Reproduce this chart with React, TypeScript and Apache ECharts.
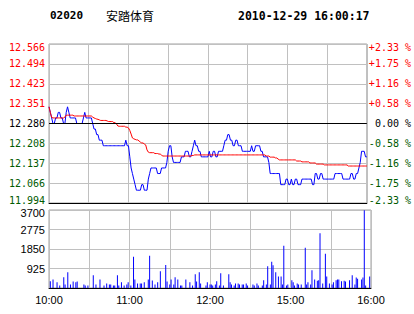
import React, { useEffect, useRef } from 'react';
import * as echarts from 'echarts';

const STOCK_CODE = '02020';
const STOCK_NAME = '安踏体育';
const TIMESTAMP = '2010-12-29 16:00:17';
const PREV_CLOSE = 12.28;
const Y_MIN = 11.994;
const Y_MAX = 12.566;
const Y_STEP = 0.0715;
const VOL_MAX = 3700;
const VOL_STEP = 925;
const X_MAX = 240;
const X_STEP = 30;

const PRICE_LABELS = ['11.994', '12.066', '12.137', '12.208', '12.280', '12.351', '12.423', '12.494', '12.566'];
const PCT_LABELS = ['-2.33 %', '-1.75 %', '-1.16 %', '-0.58 %', '\u00a00.00 %', '+0.58 %', '+1.16 %', '+1.75 %', '+2.33 %'];
const VOL_LABELS = ['', '925', '1850', '2775', '3700'];
const TIME_TICKS = [0, 60, 120, 180, 240];
const TIME_TEXT = ['10:00', '11:00', '12:00', '15:00', '16:00'];

// one value per minute, 10:00-12:30 then 14:30-16:00
const PRICE = [
  12.34, 12.32, 12.30, 12.28, 12.28, 12.30, 12.30, 12.32, 12.32, 12.30,
  12.30, 12.28, 12.28, 12.32, 12.34, 12.32, 12.30, 12.30, 12.30, 12.30,
  12.30, 12.28, 12.28, 12.28, 12.28, 12.28, 12.30, 12.32, 12.30, 12.30,
  12.30, 12.30, 12.30, 12.28, 12.26, 12.26, 12.24, 12.24, 12.22, 12.22,
  12.22, 12.20, 12.20, 12.20, 12.20, 12.20, 12.20, 12.20, 12.20, 12.20,
  12.20, 12.20, 12.20, 12.20, 12.20, 12.20, 12.20, 12.20, 12.22, 12.20,
  12.20, 12.16, 12.12, 12.10, 12.08, 12.06, 12.04, 12.04, 12.04, 12.04,
  12.06, 12.06, 12.04, 12.04, 12.04, 12.08, 12.10, 12.12, 12.12, 12.12,
  12.12, 12.12, 12.10, 12.10, 12.10, 12.12, 12.12, 12.12, 12.12, 12.14,
  12.18, 12.20, 12.20, 12.16, 12.14, 12.14, 12.14, 12.14, 12.14, 12.14,
  12.16, 12.16, 12.16, 12.18, 12.18, 12.18, 12.16, 12.16, 12.18, 12.20,
  12.22, 12.20, 12.20, 12.18, 12.18, 12.16, 12.16, 12.16, 12.16, 12.16,
  12.16, 12.18, 12.16, 12.16, 12.18, 12.18, 12.16, 12.16, 12.18, 12.18,
  12.18, 12.18, 12.20, 12.22, 12.22, 12.24, 12.24, 12.22, 12.22, 12.20,
  12.20, 12.22, 12.22, 12.20, 12.20, 12.20, 12.18, 12.18, 12.18, 12.18,
  12.18, 12.18, 12.18, 12.20, 12.18, 12.18, 12.20, 12.20, 12.20, 12.20,
  12.18, 12.18, 12.16, 12.16, 12.16, 12.16, 12.14, 12.10, 12.10, 12.10,
  12.10, 12.10, 12.10, 12.10, 12.10, 12.06, 12.06, 12.06, 12.06, 12.08,
  12.08, 12.06, 12.06, 12.08, 12.06, 12.06, 12.08, 12.08, 12.06, 12.06,
  12.06, 12.08, 12.08, 12.08, 12.08, 12.08, 12.08, 12.08, 12.08, 12.06,
  12.06, 12.10, 12.10, 12.08, 12.08, 12.10, 12.10, 12.08, 12.08, 12.08,
  12.08, 12.08, 12.08, 12.08, 12.08, 12.08, 12.10, 12.10, 12.10, 12.10,
  12.10, 12.10, 12.08, 12.08, 12.08, 12.08, 12.08, 12.08, 12.10, 12.10,
  12.08, 12.08, 12.10, 12.10, 12.12, 12.14, 12.18, 12.18, 12.18, 12.16,
  12.16,
];

const AVG_PRICE = [
  12.340, 12.320, 12.302, 12.300, 12.300, 12.300, 12.300, 12.300, 12.300, 12.300,
  12.300, 12.300, 12.303, 12.310, 12.310, 12.310, 12.310, 12.310, 12.310, 12.307,
  12.307, 12.307, 12.307, 12.307, 12.307, 12.307, 12.307, 12.307, 12.307, 12.307,
  12.307, 12.307, 12.307, 12.303, 12.300, 12.298, 12.296, 12.295, 12.293, 12.291,
  12.291, 12.291, 12.291, 12.291, 12.289, 12.287, 12.287, 12.287, 12.287, 12.283,
  12.283, 12.278, 12.271, 12.270, 12.270, 12.270, 12.270, 12.270, 12.267, 12.267,
  12.264, 12.255, 12.242, 12.228, 12.225, 12.223, 12.221, 12.221, 12.217, 12.213,
  12.210, 12.210, 12.206, 12.203, 12.185, 12.177, 12.175, 12.175, 12.175, 12.175,
  12.172, 12.172, 12.172, 12.170, 12.170, 12.166, 12.163, 12.163, 12.163, 12.163,
  12.163, 12.163, 12.163, 12.163, 12.163, 12.163, 12.163, 12.163, 12.163, 12.163,
  12.163, 12.163, 12.163, 12.163, 12.163, 12.163, 12.163, 12.163, 12.165, 12.165,
  12.167, 12.167, 12.167, 12.167, 12.167, 12.167, 12.167, 12.167, 12.167, 12.167,
  12.167, 12.167, 12.167, 12.167, 12.167, 12.167, 12.167, 12.167, 12.167, 12.167,
  12.167, 12.167, 12.167, 12.167, 12.167, 12.167, 12.167, 12.167, 12.167, 12.167,
  12.167, 12.167, 12.167, 12.167, 12.167, 12.167, 12.167, 12.167, 12.167, 12.167,
  12.167, 12.167, 12.167, 12.167, 12.167, 12.167, 12.167, 12.167, 12.167, 12.167,
  12.167, 12.167, 12.167, 12.167, 12.163, 12.163, 12.163, 12.159, 12.159, 12.159,
  12.159, 12.156, 12.156, 12.152, 12.149, 12.149, 12.149, 12.149, 12.149, 12.149,
  12.149, 12.149, 12.149, 12.149, 12.149, 12.149, 12.149, 12.145, 12.145, 12.145,
  12.145, 12.142, 12.142, 12.142, 12.142, 12.142, 12.142, 12.138, 12.138, 12.138,
  12.138, 12.138, 12.134, 12.134, 12.134, 12.134, 12.134, 12.134, 12.131, 12.131,
  12.131, 12.131, 12.131, 12.131, 12.131, 12.131, 12.131, 12.131, 12.131, 12.131,
  12.131, 12.131, 12.131, 12.131, 12.131, 12.131, 12.127, 12.127, 12.127, 12.127,
  12.127, 12.127, 12.127, 12.127, 12.127, 12.127, 12.127, 12.127, 12.127, 12.127,
  12.127,
];

const VOLUME = [
  0, 326, 0, 408, 0, 0, 277, 0, 114, 0,
  0, 505, 163, 0, 750, 0, 163, 0, 310, 0,
  277, 310, 0, 0, 0, 0, 163, 114, 0, 114,
  0, 0, 0, 603, 0, 163, 0, 0, 408, 0,
  0, 114, 0, 212, 0, 163, 163, 0, 114, 114,
  0, 603, 114, 0, 277, 0, 114, 0, 163, 277,
  0, 114, 0, 1483, 408, 0, 212, 0, 212, 212,
  0, 277, 0, 0, 408, 1532, 0, 359, 0, 163,
  0, 277, 0, 799, 0, 0, 0, 1092, 310, 0,
  163, 408, 0, 163, 505, 0, 408, 0, 114, 114,
  0, 0, 408, 0, 0, 277, 0, 114, 0, 652,
  310, 0, 750, 212, 0, 0, 0, 114, 277, 0,
  163, 163, 114, 0, 163, 326, 0, 114, 698, 0,
  114, 0, 0, 0, 650, 277, 163, 0, 114, 212,
  0, 212, 163, 0, 163, 163, 0, 212, 114, 0,
  0, 0, 163, 114, 0, 212, 114, 0, 0, 114,
  373, 0, 163, 1037, 0, 163, 1248, 1085, 0, 745,
  0, 551, 0, 551, 163, 2009, 0, 114, 163, 0,
  0, 373, 277, 114, 0, 212, 163, 0, 163, 0,
  0, 1912, 163, 277, 0, 163, 843, 0, 405, 0,
  340, 373, 2592, 0, 212, 0, 1620, 551, 0, 212,
  0, 163, 277, 0, 373, 405, 405, 0, 326, 0,
  340, 308, 0, 0, 373, 0, 600, 0, 163, 502,
  438, 0, 0, 405, 502, 3690, 114, 0, 0, 551,
  0,
];

const RED = '#ff0000';
const GREEN = '#005a00';
const GRID_GRAY = '#c0c0c0';
const MONO = '"DejaVu Sans Mono", monospace';
const SANS = '"Liberation Sans", Arial, sans-serif';

const tickIndex = (v: number) => Math.round((v - Y_MIN) / Y_STEP);
const tickColor = (v: number) => {
  const k = tickIndex(v);
  if (k > 4) return RED;
  if (k < 4) return GREEN;
  return '#000';
};
const edgeWrap = (k: number, last: number, text: string) => {
  if (k === last) return `{hi|${text}}`;
  if (k === 0) return `{lo|${text}}`;
  return text;
};

export default function App() {
  const ref = useRef<HTMLDivElement>(null);
  useEffect(() => {
    if (!ref.current) return;
    const chart = echarts.init(ref.current, null, { renderer: 'svg' });
    const xBase = {
      type: 'value',
      min: 0,
      max: X_MAX,
      interval: X_STEP,
      axisLine: { show: true, onZero: false, lineStyle: { color: '#000', width: 1 } },
      axisTick: { show: false },
      splitLine: { show: true, lineStyle: { color: GRID_GRAY, width: 1 } },
    };
    const monoRich = {
      hi: { fontFamily: MONO, fontSize: 10, color: RED, padding: [6, 0, 0, 0] },
      lo: { fontFamily: MONO, fontSize: 10, color: GREEN, padding: [0, 0, 5, 0] },
    };
    const option: any = {
      animation: false,
      backgroundColor: '#ffffff',
      textStyle: { fontFamily: SANS },
      grid: [
        { left: 49, top: 44, width: 322, height: 159, show: true, borderColor: '#a0a0a0', borderWidth: 1 },
        { left: 49, top: 210, width: 322, height: 78, show: true, borderColor: '#a0a0a0', borderWidth: 1 },
      ],
      xAxis: [
        { ...xBase, gridIndex: 0, axisLabel: { show: false } },
        {
          ...xBase,
          gridIndex: 1,
          axisLabel: {
            show: true,
            color: '#000',
            fontSize: 11,
            fontFamily: SANS,
            margin: 6,
            hideOverlap: false,
            showMinLabel: true,
            showMaxLabel: true,
            formatter: (v: number) => {
              const k = TIME_TICKS.indexOf(Math.round(v));
              return k >= 0 ? TIME_TEXT[k] : '';
            },
          },
        },
      ],
      yAxis: [
        {
          gridIndex: 0,
          type: 'value',
          position: 'left',
          min: Y_MIN,
          max: Y_MAX,
          interval: Y_STEP,
          axisLine: { show: false },
          axisTick: { show: false },
          splitLine: { show: true, lineStyle: { color: GRID_GRAY, width: 1 } },
          axisLabel: {
            fontFamily: MONO,
            fontSize: 10,
            margin: 4,
            color: (v: number) => tickColor(v),
            formatter: (v: number) => {
              const k = tickIndex(v);
              return edgeWrap(k, PRICE_LABELS.length - 1, PRICE_LABELS[k] ?? '');
            },
            rich: monoRich,
          },
        },
        {
          gridIndex: 0,
          type: 'value',
          position: 'right',
          min: Y_MIN,
          max: Y_MAX,
          interval: Y_STEP,
          axisLine: { show: false },
          axisTick: { show: false },
          splitLine: { show: false },
          axisLabel: {
            fontFamily: MONO,
            fontSize: 10,
            margin: 2,
            color: (v: number) => tickColor(v),
            formatter: (v: number) => {
              const k = tickIndex(v);
              return edgeWrap(k, PCT_LABELS.length - 1, PCT_LABELS[k] ?? '');
            },
            rich: monoRich,
          },
        },
        {
          gridIndex: 1,
          type: 'value',
          position: 'left',
          min: 0,
          max: VOL_MAX,
          interval: VOL_STEP,
          axisLine: { show: false },
          axisTick: { show: false },
          splitLine: { show: true, lineStyle: { color: GRID_GRAY, width: 1 } },
          axisLabel: {
            fontFamily: SANS,
            fontSize: 11,
            margin: 4,
            color: '#000',
            formatter: (v: number) => {
              const k = Math.round(v / VOL_STEP);
              const t = VOL_LABELS[k] ?? '';
              return k === VOL_LABELS.length - 1 ? `{hi|${t}}` : t;
            },
            rich: { hi: { fontFamily: SANS, fontSize: 11, color: '#000', padding: [5, 0, 0, 0] } },
          },
        },
      ],
      graphic: [
        { type: 'text', left: 50, top: 10, style: { text: STOCK_CODE, fontFamily: MONO, fontWeight: 'bold', fontSize: 11, fill: '#000' } },
        { type: 'text', left: 106, top: 9, style: { text: STOCK_NAME, fontFamily: '"Noto Sans CJK SC", sans-serif', fontSize: 12, fill: '#000' } },
        { type: 'text', left: 238, top: 10, style: { text: TIMESTAMP, fontFamily: MONO, fontWeight: 'bold', fontSize: 11.5, fill: '#000' } },
      ],
      series: [
        {
          name: 'price',
          type: 'line',
          xAxisIndex: 0,
          yAxisIndex: 0,
          data: PRICE.map((p, i) => [i, p]),
          symbol: 'none',
          lineStyle: { color: '#0000ff', width: 1 },
          markLine: {
            silent: true,
            symbol: ['none', 'none'],
            label: { show: false },
            lineStyle: { color: '#000', type: 'solid', width: 1 },
            data: [{ yAxis: PREV_CLOSE }],
          },
        },
        {
          name: 'avg',
          type: 'line',
          xAxisIndex: 0,
          yAxisIndex: 0,
          data: AVG_PRICE.map((p, i) => [i, p]),
          symbol: 'none',
          lineStyle: { color: RED, width: 1 },
        },
        {
          name: 'volume',
          type: 'bar',
          xAxisIndex: 1,
          yAxisIndex: 2,
          data: VOLUME.map((v, i) => [i, v]),
          barWidth: 1,
          itemStyle: { color: '#0000ff' },
        },
      ],
    };
    chart.setOption(option);
    return () => chart.dispose();
  }, []);
  return (
    <div
      ref={ref}
      style={{ position: 'fixed', left: 0, top: 0, width: 414, height: 314, background: '#fff' }}
    />
  );
}
